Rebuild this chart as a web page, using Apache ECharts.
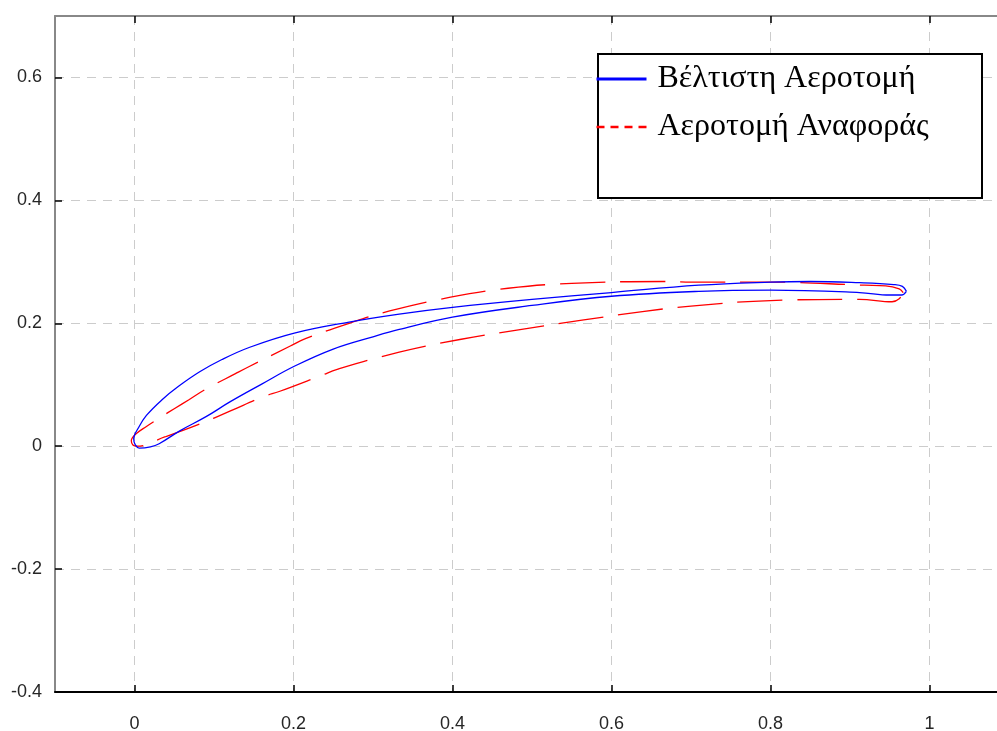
<!DOCTYPE html>
<html>
<head>
<meta charset="utf-8">
<script src="https://cdn.jsdelivr.net/npm/echarts@6/dist/echarts.min.js"></script>
<style>html,body{margin:0;padding:0;background:#fff;}#c{width:997px;height:731px;}</style>
</head>
<body>
<div id="c"></div>
<script>
// Series names
const seriesNames = ['Βέλτιστη Αεροτομή', 'Αεροτομή Αναφοράς'];

// Optimised airfoil (closed contour: trailing edge -> upper -> leading edge -> lower -> trailing edge)
const optX = [0.971, 0.966, 0.955, 0.912, 0.85, 0.8, 0.71, 0.6, 0.5, 0.4, 0.333, 0.27, 0.201, 0.145, 0.11, 0.082, 0.055, 0.035, 0.015, 0.005, -0.001, 0.001, 0.006, 0.02, 0.031, 0.057, 0.09, 0.12, 0.16, 0.201, 0.25, 0.3, 0.333, 0.4, 0.5, 0.6, 0.71, 0.8, 0.912, 0.95, 0.965, 0.971];
const optY = [0.252, 0.260, 0.263, 0.266, 0.268, 0.267, 0.262, 0.250, 0.239, 0.226, 0.215, 0.202, 0.184, 0.161, 0.141, 0.121, 0.097, 0.076, 0.050, 0.030, 0.012, 0.002, -0.003, -0.001, 0.004, 0.025, 0.048, 0.072, 0.101, 0.130, 0.158, 0.178, 0.190, 0.210, 0.229, 0.244, 0.252, 0.254, 0.250, 0.246, 0.246, 0.252];

// Reference airfoil (closed contour)
const refX = [0.967, 0.962, 0.945, 0.918, 0.8, 0.71, 0.664, 0.55, 0.47, 0.396, 0.321, 0.27, 0.215, 0.196, 0.145, 0.127, 0.09, 0.069, 0.05, 0.034, 0.015, 0.002, -0.004, -0.002, 0.003, 0.038, 0.08, 0.12, 0.163, 0.182, 0.235, 0.255, 0.333, 0.411, 0.487, 0.563, 0.639, 0.7, 0.8, 0.912, 0.953, 0.962, 0.967];
const refY = [0.250, 0.256, 0.261, 0.262, 0.267, 0.267, 0.268, 0.265, 0.257, 0.242, 0.220, 0.200, 0.175, 0.163, 0.130, 0.118, 0.093, 0.076, 0.061, 0.048, 0.032, 0.020, 0.009, 0.002, 0.000, 0.015, 0.035, 0.057, 0.081, 0.089, 0.115, 0.125, 0.153, 0.174, 0.190, 0.205, 0.219, 0.228, 0.237, 0.239, 0.235, 0.240, 0.250];

// Axis ticks
const xTicks = [0, 0.2, 0.4, 0.6, 0.8, 1];
const yTicks = [-0.4, -0.2, 0, 0.2, 0.4, 0.6];

const zip = (xs, ys) => xs.map((x, i) => [x, ys[i]]);
const isTick = (v, arr) => arr.some(t => Math.abs(t - v) < 1e-9);

const chart = echarts.init(document.getElementById('c'), null, {renderer: 'canvas'});
const labelFont = {fontFamily: 'Liberation Sans', fontSize: 18, color: '#262626'};

chart.setOption({
  animation: false,
  backgroundColor: '#fff',
  grid: {left: 55, top: 16, right: 0, bottom: 39, containLabel: false, outerBoundsMode: 'none'},
  xAxis: [{
    type: 'value', min: -0.1, max: 1.085, splitNumber: 5,
    position: 'bottom',
    axisLine: {onZero: false, lineStyle: {color: '#000', width: 2}},
    axisTick: {inside: true, length: 7, lineStyle: {color: '#000', width: 1.5},
      customValues: xTicks},
    axisLabel: Object.assign({margin: 23, customValues: xTicks,
      formatter: v => isTick(v, xTicks) ? String(v) : ''}, labelFont),
    splitLine: {show: true, lineStyle: {color: '#cccccc', width: 1, type: [9, 7]}}
  }, {
    type: 'value', min: -0.1, max: 1.085, splitNumber: 5,
    position: 'top',
    axisLine: {onZero: false, lineStyle: {color: '#888', width: 2}},
    axisTick: {inside: true, length: 7, lineStyle: {color: '#000', width: 1.5},
      customValues: xTicks},
    axisLabel: {show: false},
    splitLine: {show: false}
  }],
  yAxis: [{
    type: 'value', min: -0.4, max: 0.7, interval: 0.2,
    axisLine: {show: true, onZero: false, lineStyle: {color: '#888', width: 2}},
    axisTick: {show: true, inside: true, length: 7, lineStyle: {color: '#000', width: 1.5},
      customValues: yTicks},
    axisLabel: Object.assign({margin: 13, customValues: yTicks,
      formatter: v => isTick(v, yTicks) ? String(v) : ''}, labelFont),
    splitLine: {show: true, lineStyle: {color: '#cccccc', width: 1, type: [9, 7]}}
  }],
  legend: {
    orient: 'vertical', left: 590, top: 58, z: 5,
    itemWidth: 50, itemHeight: 30, itemGap: 16,
    textStyle: {fontFamily: 'Liberation Serif', fontSize: 32, color: '#000', padding: [0, 0, 0, 6]},
    data: [
      {name: seriesNames[0], itemStyle: {opacity: 0}, lineStyle: {color: '#0000ff', width: 3, type: 'solid', opacity: 1}},
      {name: seriesNames[1], itemStyle: {opacity: 0}, lineStyle: {color: '#ff0000', width: 2.5, type: [8, 6], opacity: 1}}
    ]
  },
  graphic: [{
    type: 'rect', left: 597, top: 53, z: 1,
    shape: {width: 384, height: 144},
    style: {fill: '#fff', stroke: '#000', lineWidth: 2}
  }],
  series: [{
    name: seriesNames[0], type: 'line', data: zip(optX, optY),
    symbol: 'none', smooth: 0.4, z: 3,
    lineStyle: {color: '#0000ff', width: 1.3}, itemStyle: {color: '#0000ff'}
  }, {
    name: seriesNames[1], type: 'line', data: zip(refX, refY),
    symbol: 'none', smooth: 0.4, z: 2,
    lineStyle: {color: '#ff0000', width: 1.3, type: [45, 15]}, itemStyle: {color: '#ff0000'}
  }]
});
</script>
</body>
</html>
